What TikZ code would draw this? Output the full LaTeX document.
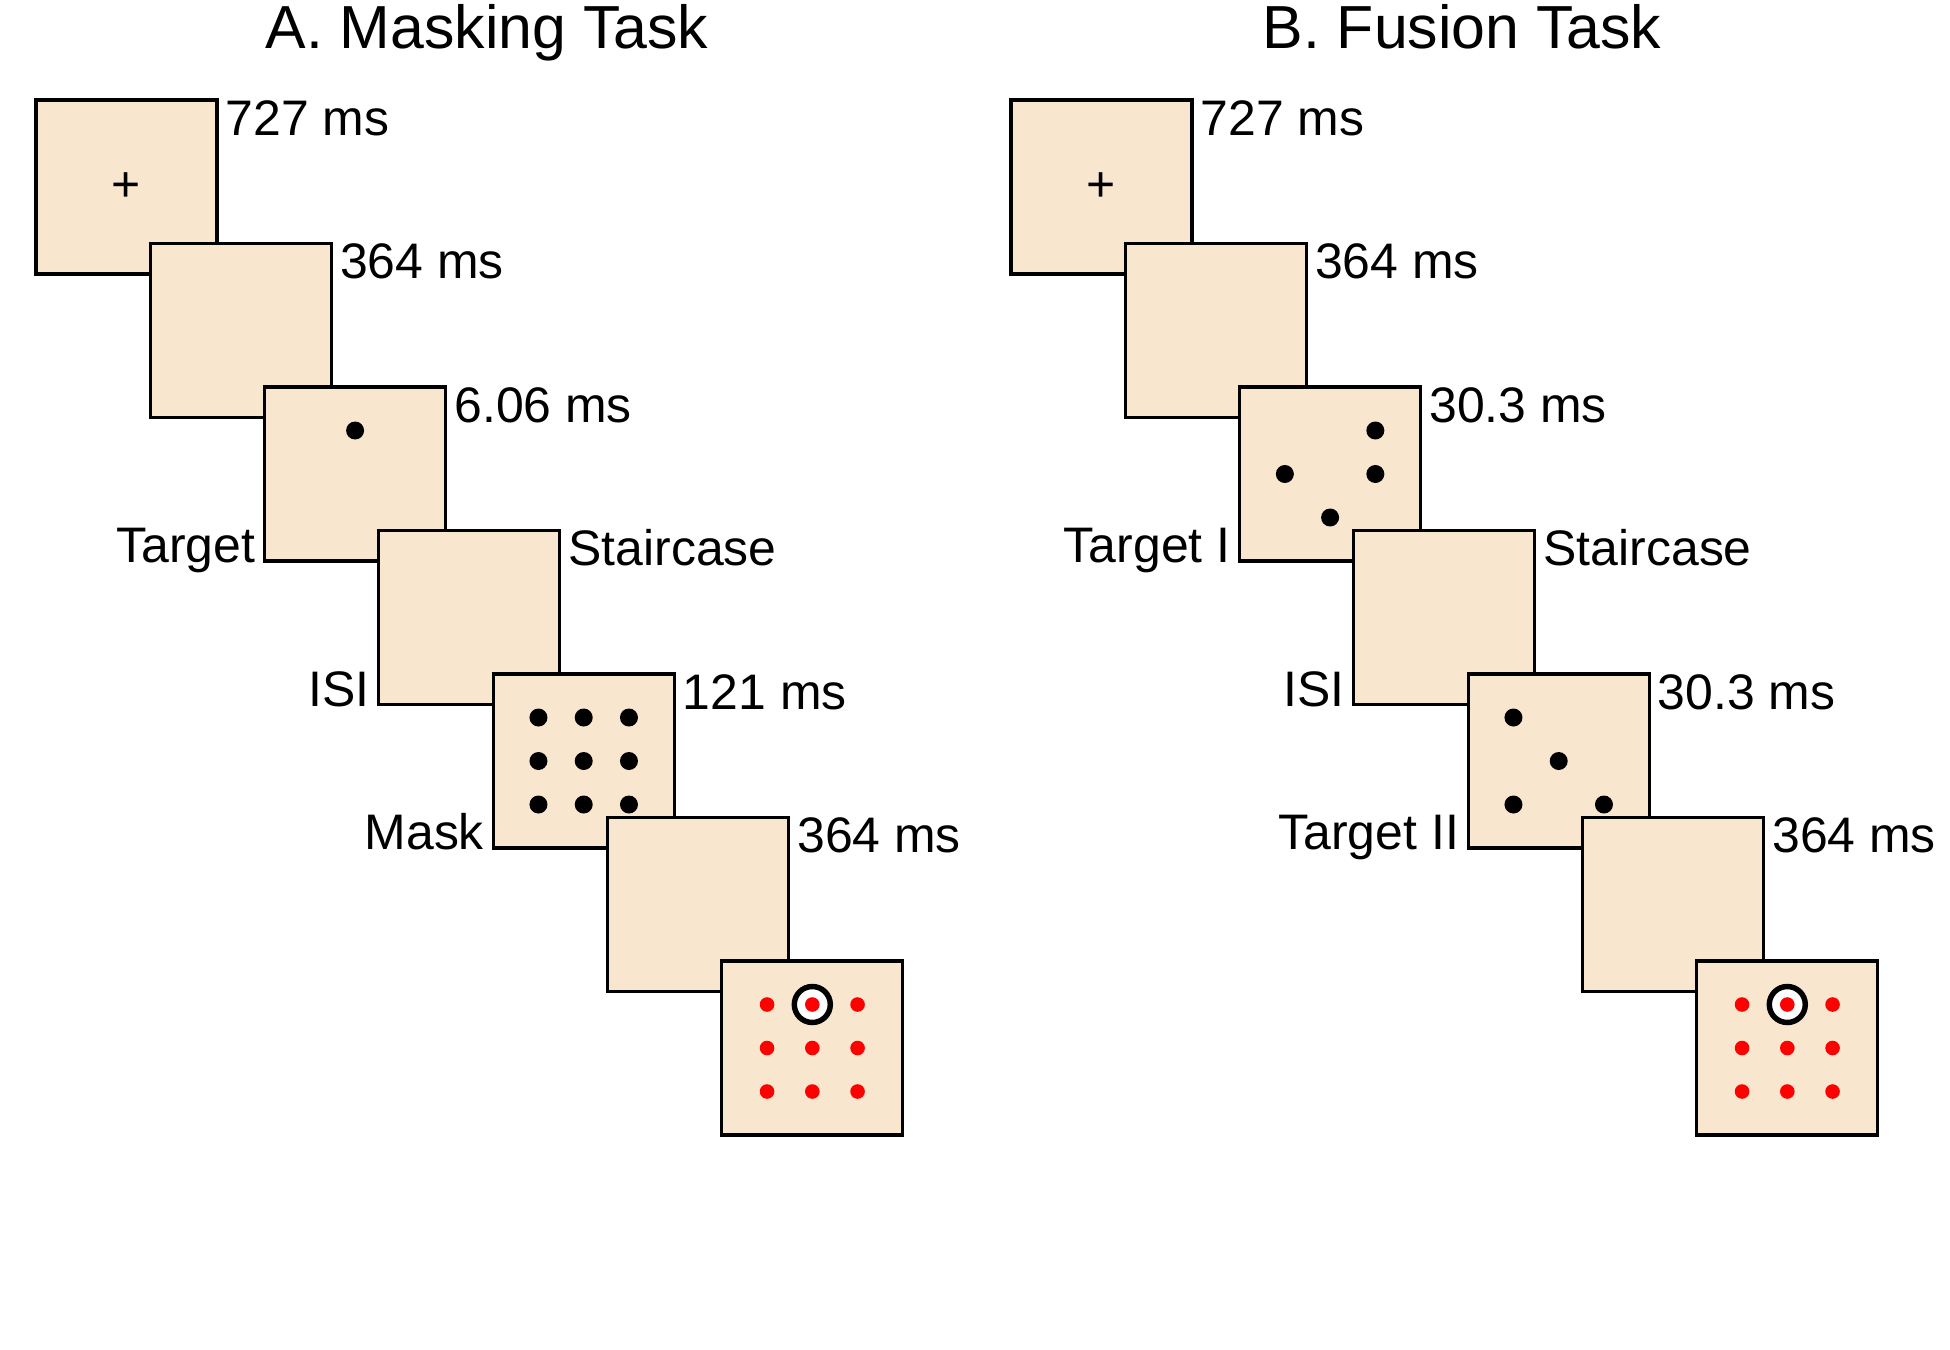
\documentclass[tikz,border=0pt]{standalone}
\usepackage{fontspec}
\setmainfont{Liberation Sans}
\usepackage{xcolor}
\usepackage{tikz}
\usetikzlibrary{positioning}
\definecolor{screen}{HTML}{F8E6CF}
\definecolor{probe}{HTML}{FF0000}

\begin{document}
\begin{tikzpicture}[
  node distance=1.435cm and 1.143cm,
  frame/.style={rectangle,draw=black,line width=0.9pt,fill=screen,minimum width=1.81cm,
    minimum height=1.74cm,inner sep=0pt},
  dur/.style={font=\fontsize{14.2}{16}\selectfont,inner sep=0pt,anchor=base west},
  tag/.style={font=\fontsize{14.2}{16}\selectfont,inner sep=0pt,anchor=base east},
  ttl/.style={font=\fontsize{17.3}{19}\selectfont,inner sep=0pt,anchor=base},
  dot/.style={fill=black},
  rdot/.style={fill=probe},
  ring/.style={draw=black,fill=white,line width=1.55pt}]
  \useasboundingbox (0,0) rectangle (19.5,-13.5);
  % A. masking
  \node[ttl] (ta) at (4.87,-0.48) {A. Masking Task};
  \node[frame] (a0) at (1.265,-1.87) {};
  \node[font=\fontsize{14.2}{16}\selectfont,inner sep=0pt] (fa) at (a0.center) {+};
  \node[below right=0.367cm and 0.065cm of a0.north east,dur] (da0) {727 ms};
  \node[frame,on grid,below right=of a0] (a1) {};
  \node[below right=0.367cm and 0.065cm of a1.north east,dur] (da1) {364 ms};
  \node[frame,on grid,below right=of a1] (a2) {};
  \fill[dot] ([shift={(0,0.435)}]a2.center) circle[radius=0.09];
  \node[below right=0.367cm and 0.065cm of a2.north east,dur] (da2) {6.06 ms};
  \node[left=0.07cm of a2.south west,tag] (la2) {Target};
  \node[frame,on grid,below right=of a2] (a3) {};
  \node[below right=0.367cm and 0.065cm of a3.north east,dur] (da3) {Staircase};
  \node[left=0.07cm of a3.south west,tag] (la3) {ISI};
  \node[frame,on grid,below right=of a3] (a4) {};
  \foreach \i in {-1,0,1}
    \foreach \j in {-1,0,1}
      \fill[dot] ([shift={(\i*0.4525,\j*0.435)}]a4.center) circle[radius=0.09];
  \node[below right=0.367cm and 0.065cm of a4.north east,dur] (da4) {121 ms};
  \node[left=0.07cm of a4.south west,tag] (la4) {Mask};
  \node[frame,on grid,below right=of a4] (a5) {};
  \node[below right=0.367cm and 0.065cm of a5.north east,dur] (da5) {364 ms};
  \node[frame,on grid,below right=of a5] (a6) {};
  \filldraw[ring] ([shift={(0,0.435)}]a6.center) circle[radius=0.18];
  \foreach \i in {-1,0,1}
    \foreach \j in {-1,0,1}
      \fill[rdot] ([shift={(\i*0.4525,\j*0.435)}]a6.center) circle[radius=0.073];
  % B. fusion
  \node[ttl] (tb) at (14.62,-0.48) {B. Fusion Task};
  \node[frame] (b0) at (11.015,-1.87) {};
  \node[font=\fontsize{14.2}{16}\selectfont,inner sep=0pt] (fb) at (b0.center) {+};
  \node[below right=0.367cm and 0.065cm of b0.north east,dur] (db0) {727 ms};
  \node[frame,on grid,below right=of b0] (b1) {};
  \node[below right=0.367cm and 0.065cm of b1.north east,dur] (db1) {364 ms};
  \node[frame,on grid,below right=of b1] (b2) {};
  \foreach \p in {(0.4525,0.435),(-0.4525,0),(0.4525,0),(0,-0.435)}
    \fill[dot] ([shift={\p}]b2.center) circle[radius=0.09];
  \node[below right=0.367cm and 0.065cm of b2.north east,dur] (db2) {30.3 ms};
  \node[left=0.07cm of b2.south west,tag] (lb2) {Target I};
  \node[frame,on grid,below right=of b2] (b3) {};
  \node[below right=0.367cm and 0.065cm of b3.north east,dur] (db3) {Staircase};
  \node[left=0.07cm of b3.south west,tag] (lb3) {ISI};
  \node[frame,on grid,below right=of b3] (b4) {};
  \foreach \p in {(-0.4525,0.435),(0,0),(-0.4525,-0.435),(0.4525,-0.435)}
    \fill[dot] ([shift={\p}]b4.center) circle[radius=0.09];
  \node[below right=0.367cm and 0.065cm of b4.north east,dur] (db4) {30.3 ms};
  \node[left=0.07cm of b4.south west,tag] (lb4) {Target II};
  \node[frame,on grid,below right=of b4] (b5) {};
  \node[below right=0.367cm and 0.065cm of b5.north east,dur] (db5) {364 ms};
  \node[frame,on grid,below right=of b5] (b6) {};
  \filldraw[ring] ([shift={(0,0.435)}]b6.center) circle[radius=0.18];
  \foreach \i in {-1,0,1}
    \foreach \j in {-1,0,1}
      \fill[rdot] ([shift={(\i*0.4525,\j*0.435)}]b6.center) circle[radius=0.073];
\end{tikzpicture}
\end{document}
